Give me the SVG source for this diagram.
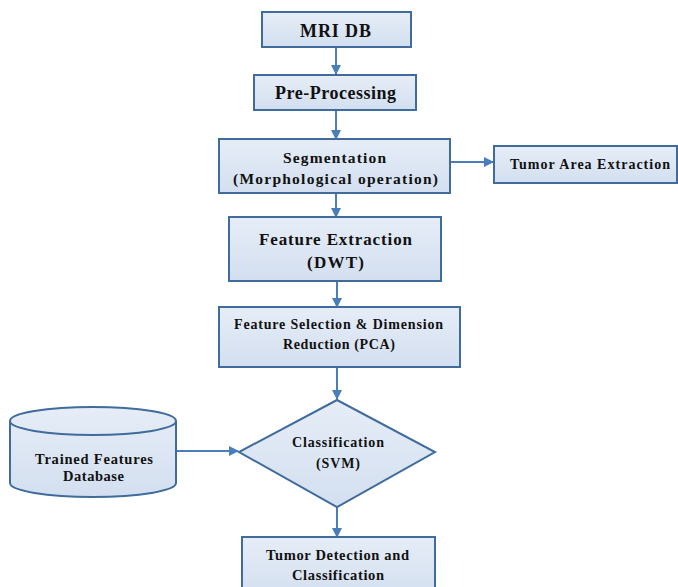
<svg xmlns="http://www.w3.org/2000/svg" width="678" height="587" viewBox="0 0 678 587">
<defs>
<linearGradient id="g" x1="0" y1="0" x2="0" y2="1">
<stop offset="0" stop-color="#e6edf7"/>
<stop offset="1" stop-color="#d3dff0"/>
</linearGradient>
<marker id="ah" viewBox="0 0 10 10" refX="9" refY="5" markerWidth="10" markerHeight="10" markerUnits="userSpaceOnUse" orient="auto">
<path d="M0,0 L10,5 L0,10 z" fill="#4a7ebb"/>
</marker>
<style>
.n{fill:url(#g);stroke:#3f6c9c;stroke-width:2}
.t{font-family:"Liberation Serif","Times New Roman",serif;font-weight:bold;fill:#111;text-anchor:middle}
.c{stroke:#4a7ebb;stroke-width:2;fill:none;marker-end:url(#ah)}
</style>
</defs>
<rect width="678" height="587" fill="#fff"/>
<g id="connectors">
<line class="c" x1="336" y1="48" x2="336" y2="74"/>
<line class="c" x1="336" y1="110" x2="336" y2="139"/>
<line class="c" x1="450" y1="162" x2="493" y2="162"/>
<line class="c" x1="336" y1="193" x2="336" y2="217"/>
<line class="c" x1="337" y1="281" x2="337" y2="307"/>
<line class="c" x1="337" y1="367" x2="337" y2="399"/>
<line class="c" x1="176" y1="451" x2="238" y2="451"/>
<line class="c" x1="337" y1="507" x2="337" y2="537"/>
</g>
<g id="mri-db">
<rect class="n" x="262" y="12" width="149" height="35"/>
<text class="t" x="335.5" y="37" font-size="18" textLength="71" lengthAdjust="spacing">MRI DB</text>
</g>
<g id="pre-processing">
<rect class="n" x="254" y="75" width="162" height="35"/>
<text class="t" x="335.5" y="99" font-size="18" textLength="121" lengthAdjust="spacing">Pre-Processing</text>
</g>
<g id="segmentation">
<rect class="n" x="219" y="139" width="231" height="54"/>
<text class="t" x="334.5" y="163" font-size="15.5" textLength="103" lengthAdjust="spacing">Segmentation</text>
<text class="t" x="335.5" y="184" font-size="15.5" textLength="205" lengthAdjust="spacing">(Morphological operation)</text>
</g>
<g id="tumor-area">
<rect class="n" x="494" y="146" width="183" height="37"/>
<text class="t" x="590" y="169" font-size="14" textLength="160" lengthAdjust="spacing">Tumor Area Extraction</text>
</g>
<g id="feature-extraction">
<rect class="n" x="229" y="217" width="212" height="64"/>
<text class="t" x="335.5" y="245" font-size="17" textLength="153" lengthAdjust="spacing">Feature Extraction</text>
<text class="t" x="335.5" y="268" font-size="17" textLength="57" lengthAdjust="spacing">(DWT)</text>
</g>
<g id="feature-selection">
<rect class="n" x="219" y="307" width="241" height="60"/>
<text class="t" x="338.5" y="329" font-size="14" textLength="209" lengthAdjust="spacing">Feature Selection &amp; Dimension</text>
<text class="t" x="339" y="349" font-size="14" textLength="112" lengthAdjust="spacing">Reduction (PCA)</text>
</g>
<g id="classification">
<path class="n" d="M337,400 L435,452 L337,507 L239,452 z"/>
<text class="t" x="338" y="447" font-size="14" textLength="92" lengthAdjust="spacing">Classification</text>
<text class="t" x="338" y="468" font-size="14" textLength="44" lengthAdjust="spacing">(SVM)</text>
</g>
<g id="trained-db">
<path class="n" d="M10,421 A83,14 0 0 1 176,421 L176,483 A83,14 0 0 1 10,483 z"/>
<path d="M10,421 A83,14 0 0 0 176,421" fill="none" stroke="#3f6c9c" stroke-width="2"/>
<text class="t" x="94" y="464" font-size="14.5" textLength="118" lengthAdjust="spacing">Trained Features</text>
<text class="t" x="93.5" y="481" font-size="14.5" textLength="61" lengthAdjust="spacing">Database</text>
</g>
<g id="tumor-detection">
<rect class="n" x="242" y="537" width="193" height="60"/>
<text class="t" x="337.5" y="560" font-size="14.5" textLength="143" lengthAdjust="spacing">Tumor Detection and</text>
<text class="t" x="338" y="580" font-size="14.5" textLength="92" lengthAdjust="spacing">Classification</text>
</g>
</svg>
